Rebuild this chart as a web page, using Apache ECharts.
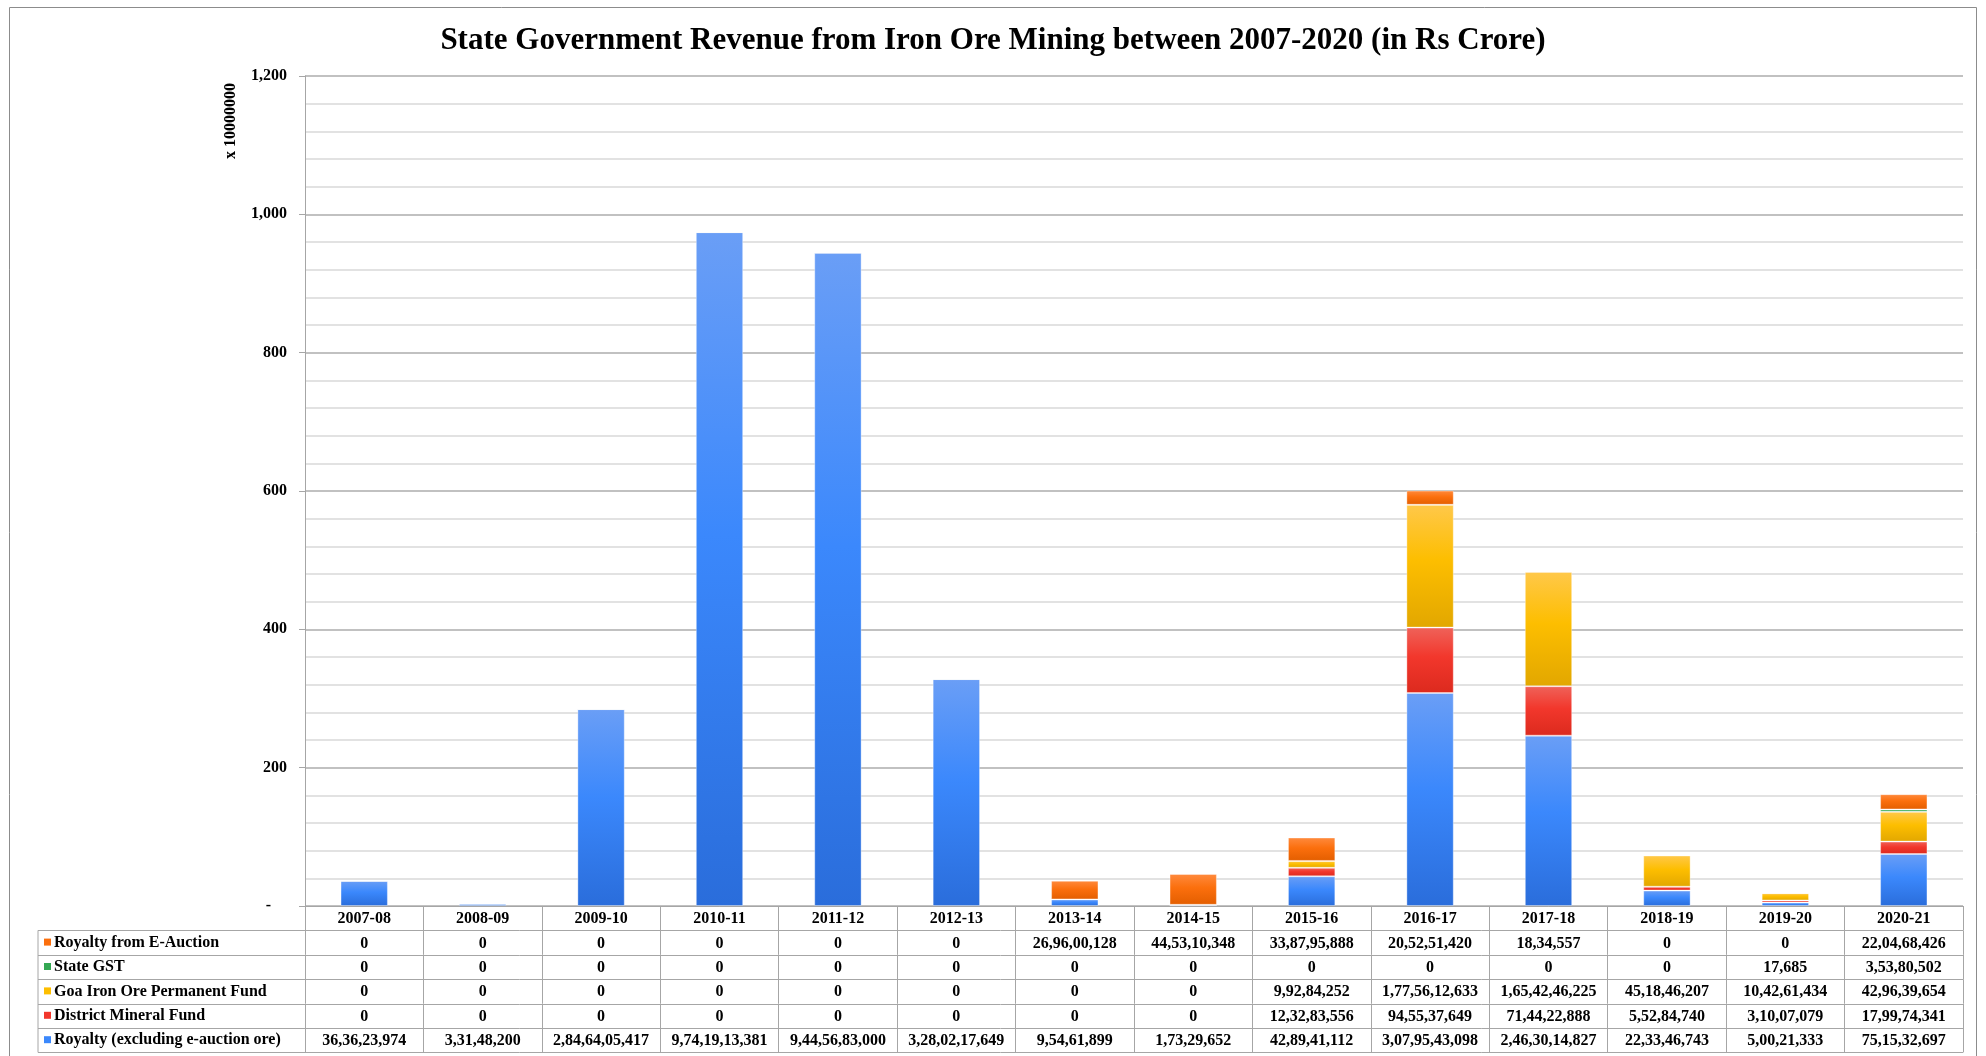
<!DOCTYPE html>
<html>
<head>
<meta charset="utf-8">
<script src="https://cdn.jsdelivr.net/npm/echarts@6/dist/echarts.min.js"></script>
<style>
  html, body { margin: 0; padding: 0; background: #ffffff; }
  #chart { width: 1986px; height: 1056px; }
</style>
</head>
<body>
<div id="chart"></div>
<script>
// Financial years on the category axis
const years = ['2007-08', '2008-09', '2009-10', '2010-11', '2011-12', '2012-13', '2013-14',
               '2014-15', '2015-16', '2016-17', '2017-18', '2018-19', '2019-20', '2020-21'];

// Revenue heads, in rupees
const royaltyEAuction = [0, 0, 0, 0, 0, 0, 269600128, 445310348, 338795888, 205251420, 1834557, 0, 0, 220468426];
const stateGST        = [0, 0, 0, 0, 0, 0, 0, 0, 0, 0, 0, 0, 17685, 35380502];
const goaFund         = [0, 0, 0, 0, 0, 0, 0, 0, 99284252, 1775612633, 1654246225, 451846207, 104261434, 429639654];
const districtFund    = [0, 0, 0, 0, 0, 0, 0, 0, 123283556, 945537649, 714422888, 55284740, 31007079, 179974341];
const royaltyExcl     = [363623974, 33148200, 2846405417, 9741913381, 9445683000, 3280217649, 95461899,
                         17329652, 428941112, 3079543098, 2463014827, 223346743, 50021333, 751532697];

// Value axis: crore (x 10000000)
const CRORE = 1e7;
const yMin = 0, yMax = 1200, yInterval = 200;

const FONT = '"Liberation Serif", "Times New Roman", serif';

// Table rows, top to bottom
const rows = [
  { name: 'Royalty from E-Auction',            data: royaltyEAuction, stops: ['#ff8a3d', '#fb6f0d', '#e35e00'] },
  { name: 'State GST',                         data: stateGST,        stops: ['#5cc273', '#34a853', '#2a8d44'] },
  { name: 'Goa Iron Ore Permanent Fund',       data: goaFund,         stops: ['#ffc84a', '#fdbe00', '#e2a700'] },
  { name: 'District Mineral Fund',             data: districtFund,    stops: ['#ef6259', '#f2372c', '#dc2a1e'] },
  { name: 'Royalty (excluding e-auction ore)', data: royaltyExcl,     stops: ['#6a9ef6', '#3b88fc', '#2a6ddb'] }
];

// Indian digit grouping: 9,74,19,13,381
function indian(n) {
  if (!n) return '0';
  const s = String(Math.round(n));
  if (s.length <= 3) return s;
  let head = s.slice(0, -3);
  const tail = s.slice(-3);
  const parts = [];
  while (head.length > 2) { parts.unshift(head.slice(-2)); head = head.slice(0, -2); }
  if (head) parts.unshift(head);
  return parts.join(',') + ',' + tail;
}

function gradient(stops) {
  return new echarts.graphic.LinearGradient(0, 0, 0, 1, [
    { offset: 0, color: stops[0] },
    { offset: 0.45, color: stops[1] },
    { offset: 1, color: stops[2] }
  ]);
}

// Layout
const W = 1986, H = 1056;
const GRID_LEFT = 305, GRID_RIGHT = 23, GRID_TOP = 76, GRID_BOTTOM = 150;
const AXIS_Y = H - GRID_BOTTOM;
const ROW_H = 24.4;
const TABLE_LEFT = 38;
const TABLE_RIGHT = W - GRID_RIGHT;
const LINE = '#a6a6a6';

const chart = echarts.init(document.getElementById('chart'), null, { renderer: 'canvas' });

// Category header axis plus one axis per table row
const xAxes = [{
  type: 'category',
  data: years,
  gridIndex: 0,
  position: 'bottom',
  axisLine: { show: true, lineStyle: { color: LINE, width: 1 } },
  axisTick: { show: true, length: ROW_H, lineStyle: { color: LINE } },
  axisLabel: { interval: 0, margin: 5, color: '#000', fontFamily: FONT, fontWeight: 'bold', fontSize: 16 }
}];
rows.forEach((row, k) => {
  xAxes.push({
    type: 'category',
    data: years,
    gridIndex: 0,
    position: 'bottom',
    offset: ROW_H * (k + 1),
    axisLine: { show: false },
    axisTick: { show: true, length: ROW_H, lineStyle: { color: LINE } },
    axisLabel: {
      interval: 0, margin: 5, color: '#000', fontFamily: FONT, fontWeight: 'bold', fontSize: 16,
      formatter: (v, i) => indian(row.data[i])
    }
  });
});

// Stacked from the bottom: royalty, DMF, permanent fund, GST, e-auction
const series = rows.slice().reverse().map(row => ({
  name: row.name,
  type: 'bar',
  stack: 'revenue',
  xAxisIndex: 0,
  barWidth: '40%',
  data: row.data.map(v => v / CRORE),
  itemStyle: { color: gradient(row.stops), borderColor: 'rgba(255,255,255,0.35)', borderWidth: 1 }
}));

// Table frame and row labels
const graphics = [
  { type: 'rect', shape: { x: 9.5, y: 7.5, width: W - 19, height: H }, style: { fill: 'none', stroke: '#8c8c8c', lineWidth: 1 }, silent: true },
  { type: 'text', x: 231, y: 121, rotation: Math.PI / 2,
    style: { text: 'x 10000000', font: 'bold 16px ' + FONT, fill: '#000', align: 'center', verticalAlign: 'middle' } },
  { type: 'line', shape: { x1: TABLE_LEFT, y1: AXIS_Y + ROW_H, x2: TABLE_LEFT, y2: AXIS_Y + ROW_H * (rows.length + 1) },
    style: { stroke: LINE, lineWidth: 1 } }
];
for (let k = 1; k <= rows.length + 1; k++) {
  const y = Math.round(AXIS_Y + ROW_H * k) + 0.5;
  graphics.push({ type: 'line', shape: { x1: TABLE_LEFT, y1: y, x2: TABLE_RIGHT, y2: y }, style: { stroke: LINE, lineWidth: 1 } });
}
rows.forEach((row, k) => {
  const cy = AXIS_Y + ROW_H * (k + 1) + ROW_H / 2;
  graphics.push({ type: 'rect', shape: { x: TABLE_LEFT + 6, y: cy - 4, width: 7, height: 7 }, style: { fill: row.stops[1] } });
  graphics.push({ type: 'text', x: TABLE_LEFT + 16, y: cy,
    style: { text: row.name, font: 'bold 16px ' + FONT, fill: '#000', align: 'left', verticalAlign: 'middle' } });
});

chart.setOption({
  backgroundColor: '#ffffff',
  animation: false,
  title: {
    text: 'State Government Revenue from Iron Ore Mining between 2007-2020 (in Rs Crore)',
    left: 'center',
    top: 20,
    textStyle: { fontFamily: FONT, fontWeight: 'bold', fontSize: 31, color: '#000' }
  },
  grid: { left: GRID_LEFT, right: GRID_RIGHT, top: GRID_TOP, bottom: GRID_BOTTOM, containLabel: false },
  xAxis: xAxes,
  yAxis: {
    type: 'value',
    min: yMin, max: yMax, interval: yInterval,
    axisLine: { show: true, lineStyle: { color: LINE } },
    axisTick: { show: true, length: 6, lineStyle: { color: LINE } },
    axisLabel: {
      margin: 18, color: '#000', fontFamily: FONT, fontWeight: 'bold', fontSize: 16,
      formatter: v => v === 0 ? '-    ' : v.toLocaleString('en-US')
    },
    splitLine: { show: true, lineStyle: { color: '#adadad', width: 1.5 } },
    minorTick: { show: false, splitNumber: 5 },
    minorSplitLine: { show: true, lineStyle: { color: '#d9d9d9', width: 1.5 } }
  },
  series: series,
  graphic: graphics
});
</script>
</body>
</html>
